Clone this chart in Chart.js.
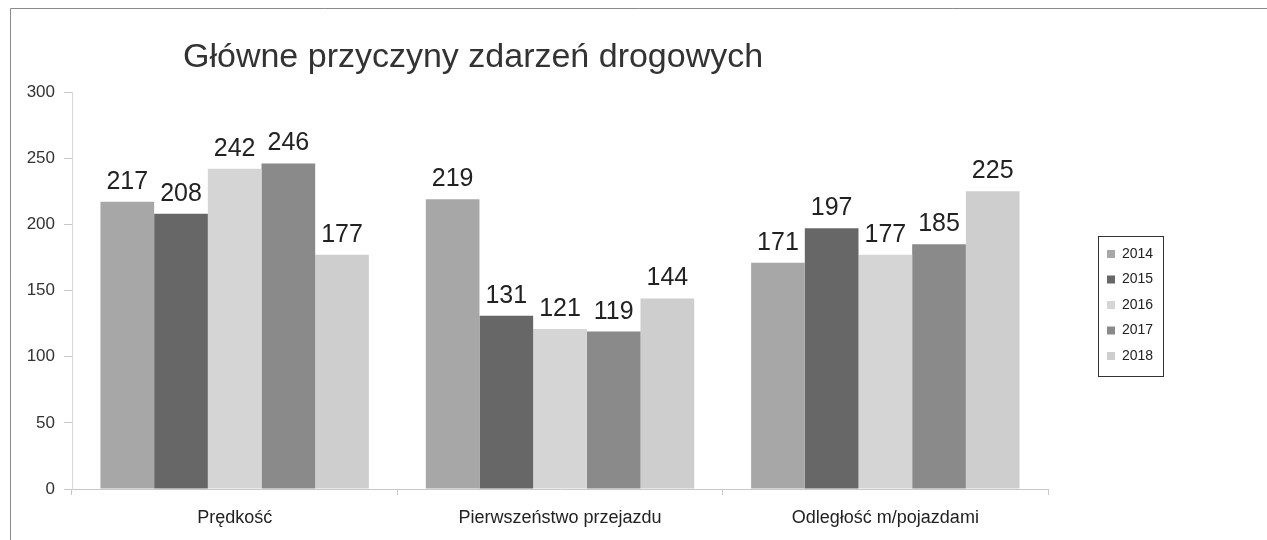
<!DOCTYPE html>
<html>
<head>
<meta charset="utf-8">
<script src="https://cdn.jsdelivr.net/npm/chart.js@4/dist/chart.umd.min.js"></script>
<style>
html,body{margin:0;padding:0;background:#fff;}
#wrap{width:1267px;height:540px;position:relative;}
</style>
</head>
<body>
<div id="wrap"><canvas id="c" width="1267" height="540"></canvas></div>
<script>
const title = "Główne przyczyny zdarzeń drogowych";
const categories = ["Prędkość", "Pierwszeństwo przejazdu", "Odległość m/pojazdami"];
const seriesNames = ["2014", "2015", "2016", "2017", "2018"];
const values2014 = [217, 219, 171];
const values2015 = [208, 131, 197];
const values2016 = [242, 121, 177];
const values2017 = [246, 119, 185];
const values2018 = [177, 144, 225];
const seriesColors = ["#a7a7a7", "#676767", "#d5d5d5", "#8a8a8a", "#cecece"];
const yTicks = [0, 50, 100, 150, 200, 250, 300];

const allValues = [values2014, values2015, values2016, values2017, values2018];
const FONT = "'Liberation Sans', Arial, sans-serif";

const framePlugin = {
  id: 'frame',
  afterDraw(chart) {
    const ctx = chart.ctx;
    ctx.save();
    // outer border (scanned page)
    ctx.strokeStyle = '#8a8a8a';
    ctx.lineWidth = 1;
    ctx.beginPath();
    ctx.moveTo(10.5, 540);
    ctx.lineTo(10.5, 8.5);
    ctx.lineTo(1267, 8.5);
    ctx.stroke();
    // title
    ctx.fillStyle = '#333';
    ctx.font = "34px " + FONT;
    ctx.textBaseline = 'middle';
    ctx.textAlign = 'left';
    ctx.fillText(title, chart.chartArea.left + 111, 58);
    // data labels
    ctx.font = "25px " + FONT;
    ctx.fillStyle = '#222';
    ctx.textAlign = 'center';
    ctx.textBaseline = 'alphabetic';
    chart.data.datasets.forEach((ds, i) => {
      const meta = chart.getDatasetMeta(i);
      meta.data.forEach((bar, j) => {
        ctx.fillText(String(ds.data[j]), bar.x, bar.y - 13);
      });
    });
    // legend
    const lx = 1098, ly = 236, lw = 65, lh = 140;
    ctx.strokeStyle = '#333';
    ctx.lineWidth = 1;
    ctx.strokeRect(lx + 0.5, ly + 0.5, lw, lh);
    ctx.font = "14px " + FONT;
    ctx.textAlign = 'left';
    ctx.textBaseline = 'middle';
    chart.data.datasets.forEach((ds, i) => {
      const cy = ly + 18 + i * 25.5;
      ctx.fillStyle = ds.backgroundColor;
      ctx.fillRect(lx + 9, cy - 4, 8, 8);
      ctx.fillStyle = '#222';
      ctx.fillText(ds.label, lx + 24, cy);
    });
    ctx.restore();
  }
};

new Chart(document.getElementById('c'), {
  type: 'bar',
  data: {
    labels: categories,
    datasets: seriesNames.map((n, i) => ({
      label: n,
      data: allValues[i],
      backgroundColor: seriesColors[i],
      borderWidth: 0,
      barPercentage: 1.0,
      categoryPercentage: 0.825
    }))
  },
  options: {
    responsive: false,
    animation: false,
    devicePixelRatio: 1,
    layout: { padding: { left: 10, right: 219, top: 92, bottom: 11 } },
    plugins: { legend: { display: false }, title: { display: false }, tooltip: { enabled: false } },
    scales: {
      x: {
        afterFit(s) { s.height = 40; },
        grid: { display: true, drawOnChartArea: false, offset: true, tickLength: 6, color: '#c8c8c8' },
        border: { display: true, color: '#c8c8c8' },
        ticks: { font: { size: 18, family: FONT }, color: '#222', padding: 12 }
      },
      y: {
        min: 0, max: 300,
        afterFit(s) { s.width = 62; },
        afterBuildTicks(s) { s.ticks = yTicks.map(v => ({ value: v })); },
        grid: { display: true, drawOnChartArea: false, tickLength: 8, color: '#c8c8c8' },
        border: { display: true, color: '#d8d8d8', dash: [2, 2] },
        ticks: { font: { size: 17, family: FONT }, color: '#333', padding: 9 }
      }
    }
  },
  plugins: [framePlugin]
});
</script>
</body>
</html>
